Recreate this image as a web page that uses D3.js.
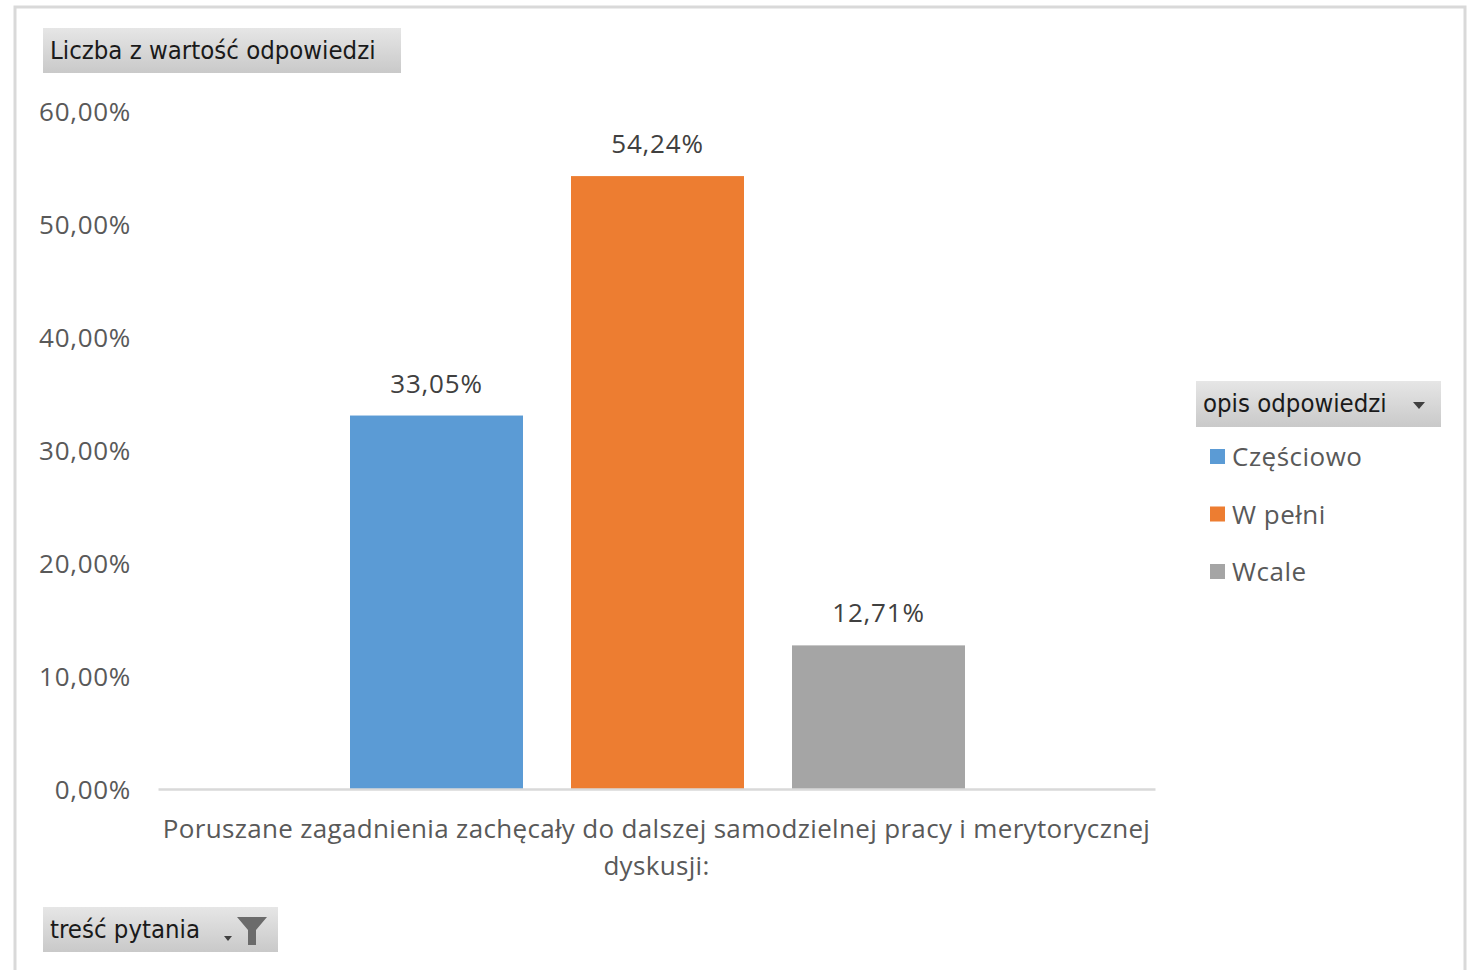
<!DOCTYPE html>
<html><head><meta charset="utf-8">
<script src="https://cdn.jsdelivr.net/npm/d3@7"></script>
<style>body{margin:0;background:#fff;}svg{display:block;}</style>
</head><body>
<script>
const categories = ["Poruszane zagadnienia zachęcały do dalszej samodzielnej pracy i merytorycznej dyskusji:"];
const seriesNames = ["Częściowo", "W pełni", "Wcale"];
const seriesValues = [0.3305, 0.5424, 0.1271];
const seriesColors = ["#5b9bd5", "#ed7d31", "#a5a5a5"];
const yTicks = [0, 0.1, 0.2, 0.3, 0.4, 0.5, 0.6];
const categoryLines = ["Poruszane zagadnienia zachęcały do dalszej samodzielnej pracy i merytorycznej", "dyskusji:"];

const W = 1473, H = 970;
const svg = d3.select("body").append("svg").attr("width", W).attr("height", H);
const defs = svg.append("defs");
const grad = defs.append("linearGradient").attr("id","btn").attr("x1",0).attr("y1",0).attr("x2",0).attr("y2",1);
grad.append("stop").attr("offset","0%").attr("stop-color","#e6e6e6");
grad.append("stop").attr("offset","100%").attr("stop-color","#c9c9c9");

// outer border
svg.append("rect").attr("x",15).attr("y",7).attr("width",1450).attr("height",980)
  .attr("fill","#fff").attr("stroke","#d9d9d9").attr("stroke-width",3);

const x0 = d3.scaleBand().domain(categories).range([158, 1155]).paddingInner(0).paddingOuter(0);
const x1 = d3.scaleBand().domain(seriesNames).range([350 - 158, 965 - 158]).paddingInner(0.2172);
const y = d3.scaleLinear().domain([0, 0.6]).range([789, 111]);

const fmt = v => d3.format(".2f")(v * 100).replace(".", ",") + "%";
const tickFont = "'Open Sans', sans-serif";

// y axis labels
const yAxis = d3.axisLeft(y).tickValues(yTicks).tickFormat(fmt).tickSize(0).tickPadding(0);
const gy = svg.append("g").attr("transform","translate(131,0)").call(yAxis);
gy.select(".domain").remove();
gy.selectAll("text").attr("font-family", tickFont).attr("font-size", 26).attr("letter-spacing", 0.7)
  .attr("fill","#595959").attr("dy","0.35em");

// bars
const g = svg.append("g");
seriesNames.forEach((s, i) => {
  const bx = x0(categories[0]) + x1(s);
  g.append("rect").attr("x", bx).attr("y", y(seriesValues[i]))
    .attr("width", x1.bandwidth()).attr("height", y(0) - y(seriesValues[i]))
    .attr("fill", seriesColors[i]);
  g.append("text").attr("x", bx + x1.bandwidth()/2).attr("y", y(seriesValues[i]) - 23)
    .attr("text-anchor","middle").attr("font-family", tickFont).attr("font-size", 26).attr("letter-spacing", 0.8)
    .attr("fill","#404040").text(fmt(seriesValues[i]));
});

// x axis
const xAxis = d3.axisBottom(x0).tickSize(0).tickFormat("");
const gx = svg.append("g").attr("transform", `translate(0,${y(0)})`).call(xAxis);
gx.select(".domain").attr("stroke","#d9d9d9").attr("stroke-width",2.5);

const cx = x0(categories[0]) + x0.bandwidth()/2;
categoryLines.forEach((t, i) => {
  svg.append("text").attr("x", cx).attr("y", 838 + i*37).attr("text-anchor","middle")
    .attr("font-family", tickFont).attr("font-size", 26).attr("letter-spacing", 0.33)
    .attr("fill","#595959").text(t);
});

// field buttons
const btnFont = "'DejaVu Sans Condensed', 'DejaVu Sans', sans-serif";
function button(x, yy, w, h, label, fs) {
  svg.append("rect").attr("x",x).attr("y",yy).attr("width",w).attr("height",h).attr("fill","url(#btn)");
  svg.append("text").attr("x", x+7).attr("y", yy + h/2 + 8).attr("font-family", btnFont)
    .attr("font-size", fs).attr("fill","#1a1a1a").text(label);
}
button(43, 28, 358, 45, "Liczba z wartość odpowiedzi", 25.5);
button(1196, 381, 245, 46, "opis odpowiedzi", 25.5);
svg.append("path").attr("d","M1413,402 L1425,402 L1419,409 Z").attr("fill","#404040");
button(43, 907, 235, 45, "treść pytania", 25.5);
// filter icon
svg.append("path").attr("d","M224,936 L232,936 L228,941 Z").attr("fill","#404040");
svg.append("path").attr("d","M237,917 L267,917 L256,930 L256,945 L248,945 L248,930 Z").attr("fill","#6b6b6b");

// legend
const lg = svg.append("g");
seriesNames.forEach((s, i) => {
  const ly = 457 + i*57.5;
  lg.append("rect").attr("x",1210).attr("y", ly - 8).attr("width",15).attr("height",15).attr("fill", seriesColors[i]);
  lg.append("text").attr("x",1232).attr("y", ly).attr("dy","0.35em").attr("font-family", tickFont)
    .attr("font-size", 26).attr("letter-spacing", 0.5).attr("fill","#595959").text(s);
});
</script>
</body></html>
